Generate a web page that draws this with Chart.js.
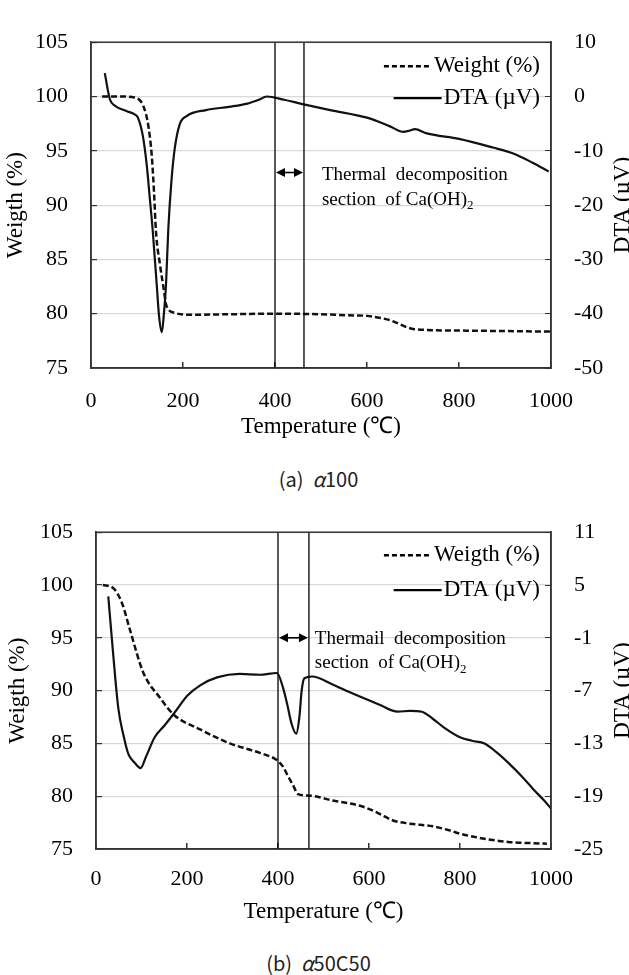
<!DOCTYPE html>
<html>
<head>
<meta charset="utf-8">
<script src="https://cdn.jsdelivr.net/npm/chart.js@4.4.1/dist/chart.umd.min.js"></script>
<style>
  body { margin: 0; background: #fff; width: 629px; height: 975px; position: relative; overflow: hidden; }
  canvas { position: absolute; left: 0; }
  .cap { position: absolute; left: 4px; width: 629px; text-align: center; font-family: "Noto Sans CJK KR", sans-serif; font-size: 20px; line-height: 24px; color: #222; }
</style>
</head>
<body>
<canvas id="chartA" width="629" height="441" style="top:0"></canvas>
<div class="cap" style="top:467px">(a)&nbsp;&nbsp;<i>α</i>100</div>
<canvas id="chartB" width="629" height="436" style="top:490px"></canvas>
<div class="cap" style="top:951px">(b)&nbsp;&nbsp;<i>α</i>50C50</div>
<script>
// TG / DTA 곡선 — (a) α100, (b) α50C50
const SERIF = "'Liberation Serif', 'Times New Roman', serif";

// ── (a) α100 ──
const tempA_w = [24, 60, 95, 105, 113, 120, 125, 132, 137, 141, 150, 158, 163, 168, 180, 220, 300, 400, 500, 560, 600, 630, 650, 665, 678, 690, 700, 730, 800, 900, 1000];
const weightA = [100, 100, 99.9, 99.7, 99.2, 98.3, 97.2, 94.6, 91.2, 87.7, 84.5, 82.3, 80.9, 80.4, 80.1, 79.9, 79.95, 80, 79.95, 79.85, 79.8, 79.6, 79.4, 79.15, 78.9, 78.7, 78.6, 78.5, 78.45, 78.4, 78.35];
const tempA_d = [30, 41, 52, 78, 95, 102, 113, 121, 128, 134, 143, 148, 154, 158, 163, 168, 175, 182, 193, 208, 250, 300, 340, 365, 382, 420, 455, 520, 600, 650, 678, 692, 704, 730, 800, 874, 918, 960, 995];
const dtaA    = [4.3, -0.5, -1.7, -2.7, -3.3, -3.9, -7.4, -12.5, -18.9, -24.5, -34.8, -40.5, -43.4, -40.5, -34.8, -24.5, -15.4, -9.6, -5.1, -3.6, -2.5, -1.9, -1.3, -0.6, 0, -0.6, -1.3, -2.5, -3.9, -5.5, -6.5, -6.3, -6.0, -6.8, -7.8, -9.4, -10.5, -12.2, -13.8];
const sectionA = [400, 463];

// ── (b) α50C50 ──
const tempB_w = [15, 38, 57, 75, 104, 141, 170, 230, 294, 338, 360, 398, 411, 422, 433, 444, 470, 520, 587, 620, 653, 690, 740, 778, 800, 850, 910, 960, 991];
const weightB = [100, 99.7, 98.3, 95.7, 91.7, 89.3, 87.75, 86.3, 85.0, 84.4, 84.1, 83.4, 82.8, 81.9, 81.05, 80.2, 80.05, 79.6, 79.0, 78.4, 77.7, 77.4, 77.15, 76.75, 76.45, 76.0, 75.65, 75.55, 75.5];
const tempB_d = [27, 38, 49, 60, 71, 85, 98, 110, 129, 150, 177, 200, 229, 266, 316, 360, 398, 410, 420, 430, 440, 447, 452, 458, 475, 520, 558, 623, 663, 690, 716, 740, 765, 800, 826, 854, 880, 908, 935, 961, 985, 1000];
const dtaB    = [3.7, -3, -9, -12, -14.2, -15.2, -15.8, -14.5, -12.3, -11.0, -9.2, -7.6, -6.4, -5.5, -5.1, -5.2, -5.0, -6.5, -8.5, -10.8, -11.9, -10, -7, -5.6, -5.4, -6.3, -7.2, -8.6, -9.4, -9.3, -9.4, -10.2, -11.2, -12.3, -12.7, -13.0, -14.0, -15.3, -16.7, -18.2, -19.5, -20.4];
const sectionB = [400, 468];

const pts = (xs, ys) => xs.map((x, i) => ({ x, y: ys[i] }));
const vline = t => [{ x: t, y: 75 }, { x: t, y: 105 }];
const plain = v => String(v);   // 1,000 → 1000

Chart.defaults.font.family = SERIF;
Chart.defaults.color = '#000';

// 틀, 화살표, 주석, 범례, 오른쪽 축 제목
const notesPlugin = {
  id: 'notes',
  afterDatasetsDraw(chart, args, o) {
    const { ctx, chartArea: a, scales: { x, y } } = chart;
    ctx.save();
    ctx.strokeStyle = '#333'; ctx.lineWidth = 1.5;
    ctx.strokeRect(a.left, a.top, a.right - a.left, a.bottom - a.top);

    // ↔ 화살표
    const x1 = x.getPixelForValue(o.section[0]), x2 = x.getPixelForValue(o.section[1]);
    const ay = y.getPixelForValue(o.arrowY);
    ctx.strokeStyle = '#000'; ctx.fillStyle = '#000'; ctx.lineWidth = 1.6;
    ctx.beginPath(); ctx.moveTo(x1 + 6, ay); ctx.lineTo(x2 - 6, ay); ctx.stroke();
    [[x1, 1], [x2, -1]].forEach(([px, d]) => {
      ctx.beginPath(); ctx.moveTo(px + d, ay); ctx.lineTo(px + d * 10, ay - 4.5); ctx.lineTo(px + d * 10, ay + 4.5); ctx.closePath(); ctx.fill();
    });

    // 주석
    ctx.font = `19px ${SERIF}`; ctx.textBaseline = 'middle'; ctx.textAlign = 'left';
    const tx = x.getPixelForValue(o.textX);
    ctx.fillText(o.line1, tx, y.getPixelForValue(o.line1Y));
    const l2y = y.getPixelForValue(o.line2Y);
    const s2 = 'section  of Ca(OH)';
    ctx.fillText(s2, tx, l2y);
    const w2 = ctx.measureText(s2).width;
    ctx.font = `13px ${SERIF}`;
    ctx.fillText('2', tx + w2, l2y + 6);

    // 범례
    ctx.font = `23px ${SERIF}`; ctx.textAlign = 'right';
    o.legend.forEach((item, i) => {
      const ly = a.top + o.legendRows[i];
      const right = a.right - 11;
      ctx.fillText(item.text, right, ly);
      const left = right - ctx.measureText(item.text).width;
      ctx.lineWidth = item.dash ? 2.4 : 2.2;
      ctx.setLineDash(item.dash || []);
      ctx.beginPath(); ctx.moveTo(left - 50, ly); ctx.lineTo(left - 2, ly); ctx.stroke();
      ctx.setLineDash([]);
    });

    // 오른쪽 축 제목 (아래→위)
    ctx.translate(o.rightTitleX, (a.top + a.bottom) / 2);
    ctx.rotate(-Math.PI / 2);
    ctx.textAlign = 'center';
    ctx.fillText('DTA (µV)', 0, 0);
    ctx.restore();
  }
};

function makeChart(id, c) {
  return new Chart(document.getElementById(id), {
    type: 'line',
    data: {
      datasets: [
        { label: 's1', data: vline(c.section[0]), yAxisID: 'y', borderColor: '#000', borderWidth: 1.3, pointRadius: 0 },
        { label: 's2', data: vline(c.section[1]), yAxisID: 'y', borderColor: '#000', borderWidth: 1.3, pointRadius: 0 },
        { label: c.wLabel, data: pts(c.tw, c.w), yAxisID: 'y', borderColor: '#111', borderWidth: 2.5, borderDash: [6, 3], pointRadius: 0, cubicInterpolationMode: 'monotone' },
        { label: 'DTA (µV)', data: pts(c.td, c.d), yAxisID: 'y2', borderColor: '#111', borderWidth: 2.2, pointRadius: 0, cubicInterpolationMode: 'monotone' },
      ]
    },
    options: {
      responsive: false, animation: false,
      font: { family: SERIF },
      layout: { padding: { top: c.padTop, right: 0, bottom: 0, left: 0 } },
      plugins: {
        legend: { display: false }, tooltip: { enabled: false },
        notes: c.notes,
      },
      scales: {
        x: {
          type: 'linear', min: 0, max: 1000,
          ticks: { stepSize: 200, padding: c.xPad, font: { family: SERIF, size: 22 }, color: '#000', callback: plain },
          grid: { drawOnChartArea: false, tickLength: -6, tickColor: '#333', lineWidth: 1.5 },
          border: { color: '#333', width: 1.5 },
          title: { display: true, text: 'Temperature (℃)', font: { family: SERIF, size: 23 }, color: '#000', padding: 0 },
          afterFit: s => { s.height = c.xH; },
        },
        y: {
          position: 'left', min: 75, max: 105,
          ticks: { stepSize: 5, padding: 29, font: { family: SERIF, size: 22 }, color: '#000', callback: plain },
          grid: { color: '#d9d9d9', lineWidth: 1.2, tickLength: -6, tickColor: '#333' },
          border: { color: '#333', width: 1.5 },
          title: { display: true, text: 'Weigth (%)', font: { family: SERIF, size: 23 }, color: '#000', padding: { top: c.yTitlePad, bottom: 0 } },
          afterFit: s => { s.width = c.leftW; },
        },
        y2: {
          position: 'right', min: c.dMin, max: c.dMax,
          ticks: { stepSize: c.dStep, padding: 29, font: { family: SERIF, size: 22 }, color: '#000', callback: plain },
          grid: { drawOnChartArea: false, tickLength: -6, tickColor: '#333' },
          border: { color: '#333', width: 1.5 },
          afterFit: s => { s.width = 78; },
        },
      },
    },
    plugins: [notesPlugin],
  });
}

makeChart('chartA', {
  tw: tempA_w, w: weightA, td: tempA_d, d: dtaA, section: sectionA, wLabel: 'Weight (%)',
  dMin: -50, dMax: 10, dStep: 10,
  padTop: 19, xH: 73, xPad: 26, leftW: 91, yTitlePad: 2,
  notes: {
    section: sectionA, arrowY: 93.0, textX: 502, line1: 'Thermal  decomposition', line1Y: 92.8, line2Y: 90.5,
    legend: [{ text: 'Weight (%)', dash: [5, 3] }, { text: 'DTA (µV)' }], legendRows: [24, 56], rightTitleX: 623,
  },
});

makeChart('chartB', {
  tw: tempB_w, w: weightB, td: tempB_d, d: dtaB, section: sectionB, wLabel: 'Weigth (%)',
  dMin: -25, dMax: 11, dStep: 6,
  padTop: 32, xH: 77, xPad: 23, leftW: 96, yTitlePad: 4,
  notes: {
    section: sectionB, arrowY: 95.0, textX: 481, line1: 'Thermail  decomposition', line1Y: 94.9, line2Y: 92.6,
    legend: [{ text: 'Weigth (%)', dash: [5, 3] }, { text: 'DTA (µV)' }], legendRows: [23, 58], rightTitleX: 623,
  },
});
</script>
</body>
</html>
